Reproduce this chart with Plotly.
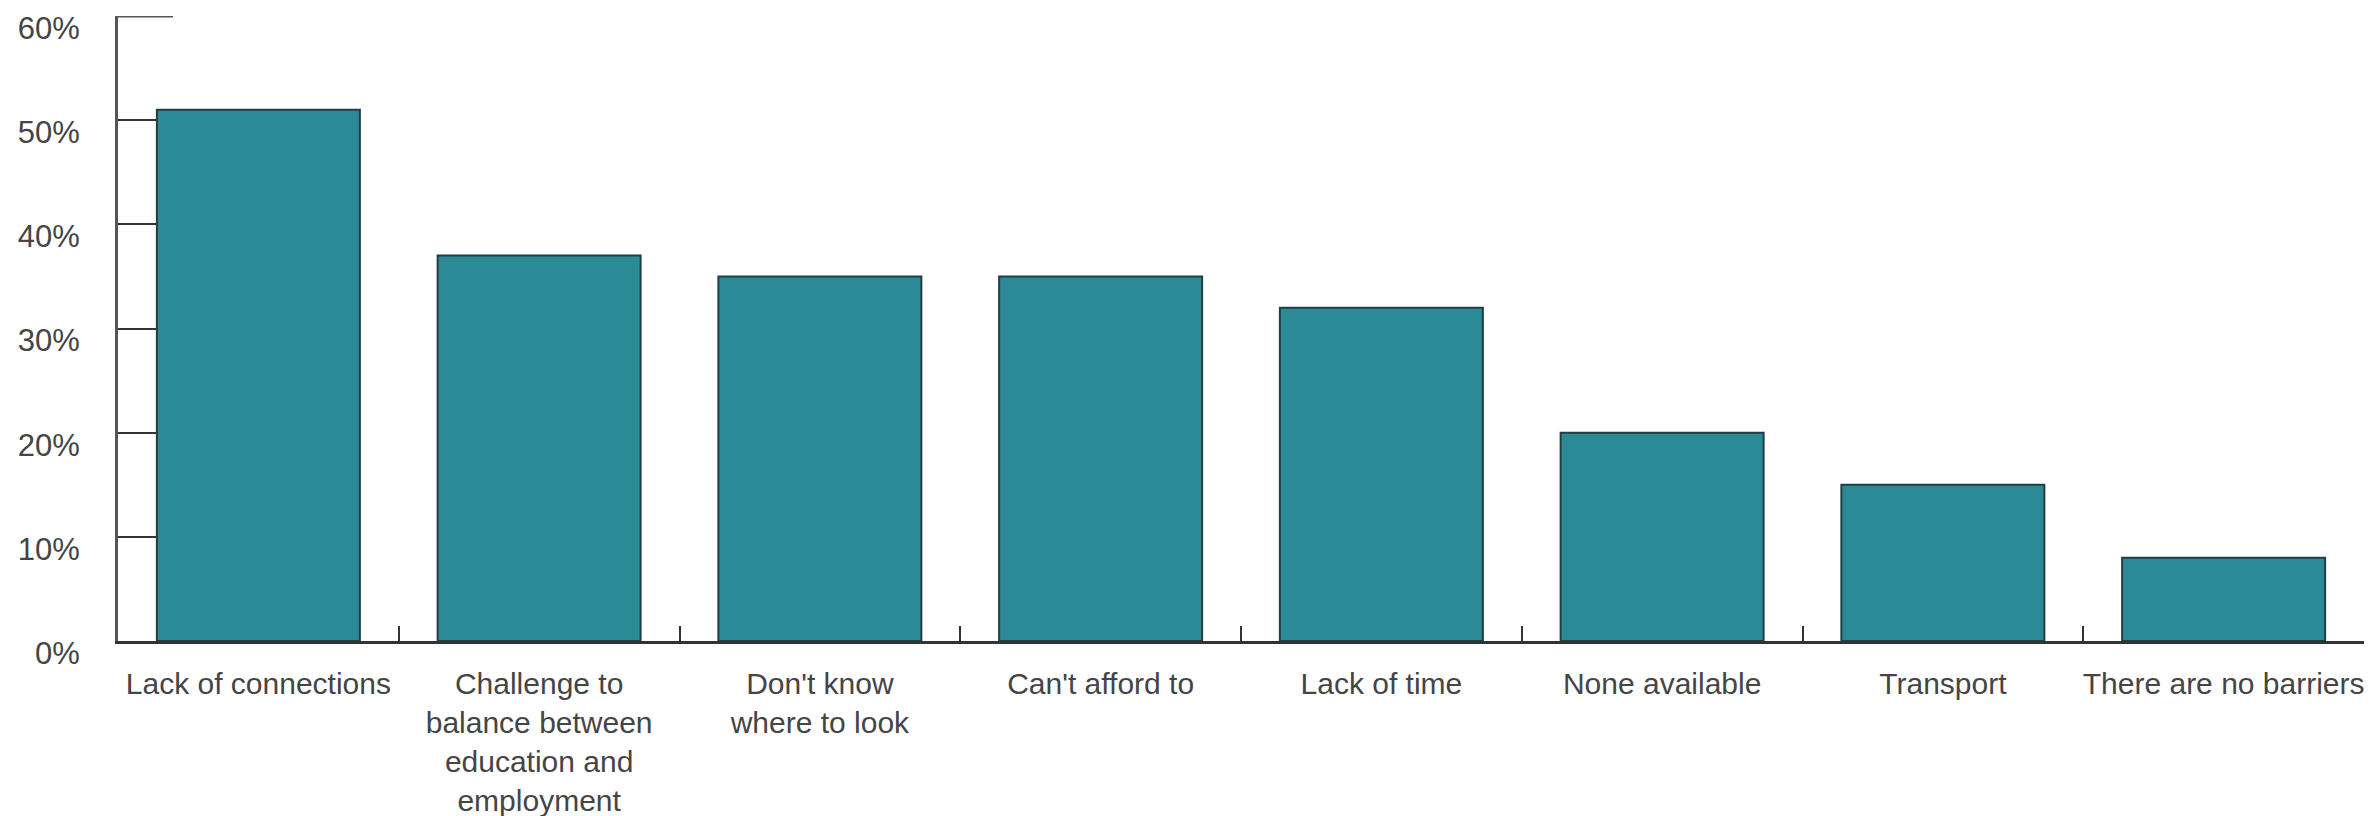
import plotly.graph_objects as go

categories = [
    "Lack of connections",
    "Challenge to<br>balance between<br>education and<br>employment",
    "Don't know<br>where to look",
    "Can't afford to",
    "Lack of time",
    "None available",
    "Transport",
    "There are no barriers",
]
values = [51, 37, 35, 35, 32, 20, 15, 8]
y_ticks = [0, 10, 20, 30, 40, 50, 60]
y_tick_labels = [f"{v}%" for v in y_ticks]

FONT = "Liberation Sans, Arial, Helvetica, sans-serif"
TEXT = "#454545"
AXIS = "#555555"

fig = go.Figure(
    go.Bar(
        x=categories,
        y=values,
        width=0.723,
        marker=dict(color="#2c8a97", line=dict(color="#1f3f45", width=2)),
        hoverinfo="x+y",
    )
)

# the page body has an 8px default margin; compensate in figure size/margins
fig.update_layout(
    width=2371,
    height=808,
    margin=dict(l=110, r=15, t=8, b=175),
    plot_bgcolor="white",
    paper_bgcolor="white",
    showlegend=False,
    font=dict(family=FONT, size=30, color=TEXT),
)

fig.update_xaxes(
    showline=True,
    linecolor="#333333",
    linewidth=2.5,
    ticks="inside",
    tickson="boundaries",
    ticklen=15,
    tickwidth=2,
    tickcolor="#333333",
    showgrid=False,
    zeroline=False,
    tickangle=0,
    automargin=False,
    tickfont=dict(family=FONT, size=30, color=TEXT),
    ticklabelstandoff=14,
    fixedrange=True,
)

fig.update_yaxes(
    range=[0, 60.001],
    tickvals=y_ticks,
    ticktext=y_tick_labels,
    showline=True,
    linecolor=AXIS,
    linewidth=3,
    ticks="inside",
    ticklen=39,
    tickwidth=2,
    tickcolor="#333333",
    showgrid=False,
    zeroline=False,
    automargin=False,
    ticklabeloverflow="allow",
    tickfont=dict(family=FONT, size=31, color=TEXT),
    ticklabelstandoff=29,
    ticklabelshift=12,
    fixedrange=True,
)

# longer cap line at the top of the y axis
fig.add_shape(
    type="line",
    xref="paper",
    yref="y",
    x0=0,
    x1=55 / 2246,
    y0=60,
    y1=60,
    line=dict(color=AXIS, width=3),
)

fig.write_html("out.html")
